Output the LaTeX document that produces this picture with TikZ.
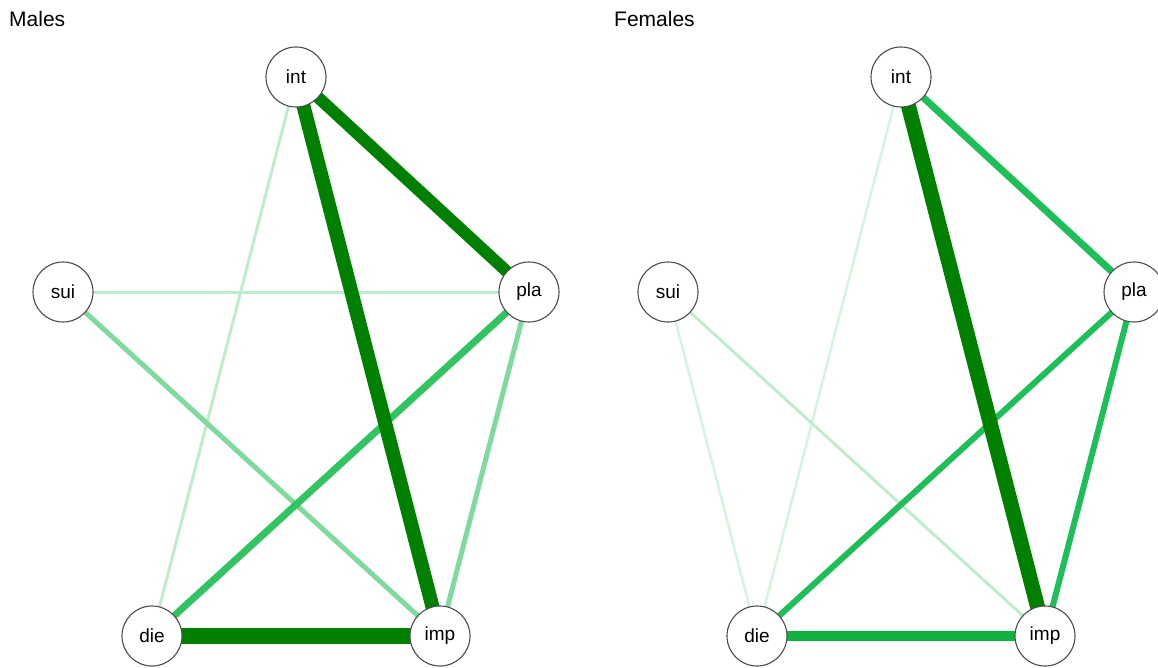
\documentclass[tikz,border=0pt]{standalone}
\usepackage{fontspec}
\setmainfont{Liberation Sans}
\begin{document}
\begin{tikzpicture}[x=1pt,y=-1pt,
  vtx/.style={circle,draw=black!70,line width=1.1pt,fill=white,minimum size=60pt,inner sep=0pt,font=\fontsize{19}{19}\selectfont},
  ttl/.style={anchor=base west,inner sep=0pt,font=\fontsize{21}{21}\selectfont},
  e/.style={line width=#1},
]
\definecolor{gDark}{RGB}{0,128,0}
\definecolor{gMid}{RGB}{50,196,98}
\definecolor{gFem}{RGB}{30,190,88}
\definecolor{gFemB}{RGB}{18,178,66}
\definecolor{gLight}{RGB}{128,218,158}
\definecolor{gPale}{RGB}{190,236,204}
\definecolor{gFaint}{RGB}{214,243,222}
\useasboundingbox (0,0) rectangle (1158,668);

% ---- Males ----
\node[ttl] (tm) at (9,27) {Males};
\coordinate (mint) at (296,77);
\coordinate (msui) at (63,292);
\coordinate (mpla) at (529,292);
\coordinate (mdie) at (152,636);
\coordinate (mimp) at (440,636);
\draw[gPale,e=3] (mint) -- (mdie);
\draw[gPale,e=3] (msui) -- (mpla);
\draw[gLight,e=5] (msui) -- (mimp);
\draw[gLight,e=5] (mpla) -- (mimp);
\draw[gMid,e=7] (mpla) -- (mdie);
\draw[gDark,e=12] (mint) -- (mpla);
\draw[gDark,e=14] (mint) -- (mimp);
\draw[gDark,e=16] (mdie) -- (mimp);
\node[vtx] (nmint) at (mint) {int};
\node[vtx] (nmsui) at (msui) {sui};
\node[vtx] (nmpla) at (mpla) {pla};
\node[vtx] (nmdie) at (mdie) {die};
\node[vtx] (nmimp) at (mimp) {imp};

% ---- Females ----
\node[ttl] (tf) at (614,27) {Females};
\coordinate (fint) at (901,77);
\coordinate (fsui) at (668,292);
\coordinate (fpla) at (1134,292);
\coordinate (fdie) at (757,636);
\coordinate (fimp) at (1045,636);
\draw[gFaint,e=2.5] (fint) -- (fdie);
\draw[gFaint,e=2.5] (fsui) -- (fdie);
\draw[gPale,e=3] (fsui) -- (fimp);
\draw[gFem,e=6] (fpla) -- (fdie);
\draw[gFem,e=6] (fpla) -- (fimp);
\draw[gFem,e=7] (fint) -- (fpla);
\draw[gFemB,e=10] (fdie) -- (fimp);
\draw[gDark,e=15] (fint) -- (fimp);
\node[vtx] (nfint) at (fint) {int};
\node[vtx] (nfsui) at (fsui) {sui};
\node[vtx] (nfpla) at (fpla) {pla};
\node[vtx] (nfdie) at (fdie) {die};
\node[vtx] (nfimp) at (fimp) {imp};
\end{tikzpicture}
\end{document}
